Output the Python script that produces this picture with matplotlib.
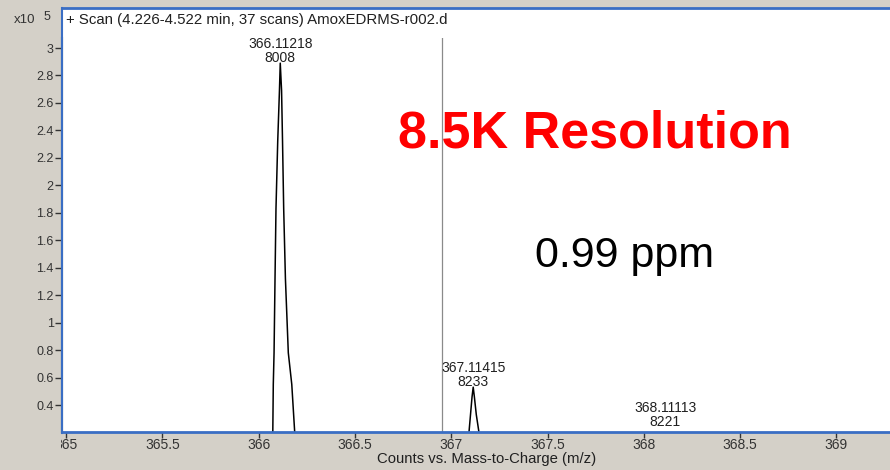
import matplotlib
matplotlib.use("Agg")
from matplotlib import pyplot as plt
from matplotlib.patches import Rectangle
from matplotlib.transforms import Bbox, TransformedBbox

plt.rcParams['font.family'] = ['Liberation Sans', 'DejaVu Sans']

# profile points (counts x10^5)
peak1_mz = [366.072, 366.076, 366.080, 366.085, 366.090, 366.099, 366.108, 366.1122,
            366.119, 366.124, 366.130, 366.139, 366.154, 366.172, 366.196]
peak1_int = [0.00, 0.55, 0.78, 1.32, 1.83, 2.32, 2.69, 2.89,
             2.69, 2.32, 1.83, 1.32, 0.78, 0.55, 0.00]
peak2_mz = [367.070, 367.092, 367.100, 367.108, 367.114, 367.120, 367.130, 367.144, 367.170]
peak2_int = [0.05, 0.20, 0.33, 0.46, 0.53, 0.46, 0.33, 0.20, 0.05]
peak3_mz = [368.080, 368.100, 368.111, 368.122, 368.140]
peak3_int = [0.03, 0.09, 0.12, 0.09, 0.03]

label_mz = ["366.11218", "367.11415", "368.11113"]
label_res = ["8008", "8233", "8221"]

marker_mz = 366.952
xticks = [365, 365.5, 366, 366.5, 367, 367.5, 368, 368.5, 369]
xtick_labels = ["365", "365.5", "366", "366.5", "367", "367.5", "368", "368.5", "369"]
yticks = [0.4, 0.6, 0.8, 1, 1.2, 1.4, 1.6, 1.8, 2, 2.2, 2.4, 2.6, 2.8, 3]
ytick_labels = ["0.4", "0.6", "0.8", "1", "1.2", "1.4", "1.6", "1.8", "2", "2.2", "2.4", "2.6", "2.8", "3"]

W, H = 890, 470
bg = '#d4d0c8'
blue = '#3a6ec4'

fig = plt.figure(figsize=(W / 100, H / 100), dpi=100, facecolor=bg)

# white panel behind the header and the plot
fig.patches.append(Rectangle((62 / W, (H - 432) / H), 1 - 62 / W, (432 - 8) / H,
                             transform=fig.transFigure, facecolor='white',
                             edgecolor='none', zorder=-5))
fig.lines.append(plt.Line2D([62 / W, 1], [1 - 8 / H, 1 - 8 / H], transform=fig.transFigure,
                            color=blue, lw=2))
fig.lines.append(plt.Line2D([61.5 / W, 61.5 / W], [1 - 8 / H, (H - 433) / H],
                            transform=fig.transFigure, color=blue, lw=1.5))

ax = fig.add_axes([62 / W, (H - 432) / H, 1 - 62 / W, (432 - 38) / H])
ax.patch.set_alpha(0)

for mz, it in [(peak1_mz, peak1_int), (peak2_mz, peak2_int), (peak3_mz, peak3_int)]:
    ax.plot(mz, it, color='black', lw=1.1)

ax.axvline(marker_mz, color='#8a8a8a', lw=0.9)

ax.set_xlim(364.979, 369.278)
ax.set_ylim(0.2034, 3.073)

ylo = 0.2034
peaks_int = [peak1_int, peak2_int, peak3_int]
for lm, lr, it in zip(label_mz, label_res, peaks_int):
    ty = max(max(it), ylo + 0.035)
    ax.annotate(lm + "\n" + lr, (float(lm), ty), xytext=(0, -1.5), textcoords='offset points',
                ha='center', va='bottom', fontsize=10, color='#202020',
                linespacing=1.0, annotation_clip=False)

ax.set_xticks(xticks)
ax.set_xticklabels(xtick_labels)
ax.set_yticks(yticks)
ax.set_yticklabels(ytick_labels)
ax.tick_params(axis='both', direction='out', labelcolor='#333333',
               color='#333333', width=1)
ax.tick_params(axis='y', length=5, pad=1, labelsize=9)
ax.tick_params(axis='x', length=4, pad=0.5, labelsize=10)

ax.spines['top'].set_visible(False)
ax.spines['right'].set_visible(False)
ax.spines['left'].set_color('#1a1a1a')
ax.spines['left'].set_linewidth(1.5)
ax.spines['bottom'].set_color(blue)
ax.spines['bottom'].set_linewidth(2)

ax.set_xlabel("Counts vs. Mass-to-Charge (m/z)", fontsize=10.7, color='#202020')
ax.xaxis.set_label_coords(0.513, -0.05)

# first x tick label is cut at the panel edge in the original
clip = TransformedBbox(Bbox([[61 / W, 0], [1, 1]]), fig.transFigure)
first = ax.get_xticklabels()[0]
first.set_clip_box(clip)
first.set_clip_on(True)

fig.text(14 / W, 1 - 20 / H, "x10", fontsize=9.5, color='#333333', va='center')
fig.text(44 / W, 1 - 17 / H, "5", fontsize=9, color='#333333', va='center')
fig.text(66 / W, 1 - 20 / H, "+ Scan (4.226-4.522 min, 37 scans) AmoxEDRMS-r002.d",
         fontsize=10.8, color='#202020', va='center')

fig.text(595 / W, 1 - 147 / H, "8.5K Resolution", fontsize=37.5, fontweight='bold',
         color='#ff0000', ha='center', va='baseline')
fig.text(625 / W, 1 - 266.5 / H, "0.99 ppm", fontsize=31, color='black',
         ha='center', va='baseline')

fig.savefig("out.png", dpi=100, facecolor=bg)
